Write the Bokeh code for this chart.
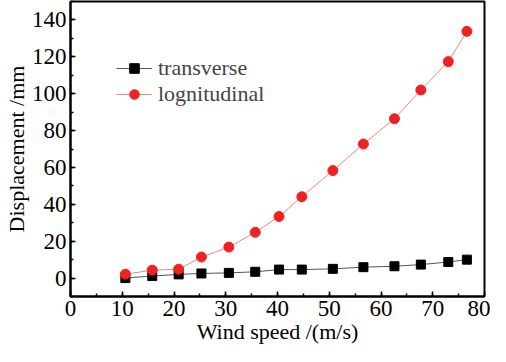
from bokeh.plotting import figure
from bokeh.models import Range1d, SingleIntervalTicker, Legend, LegendItem
from bokeh.embed import file_html
from bokeh.resources import INLINE

wind_speed = [10.6, 15.8, 20.9, 25.3, 30.6, 35.7, 40.3, 44.7, 50.7, 56.6, 62.6, 67.7, 73.0, 76.6]
transverse = [0.0, 1.1, 2.0, 2.5, 2.8, 3.4, 4.6, 4.6, 5.0, 5.9, 6.4, 7.3, 8.7, 10.0]
longitudinal = [2.1, 4.3, 4.8, 11.4, 16.8, 24.8, 33.4, 44.1, 58.3, 72.7, 86.4, 102.0, 117.4, 133.8]

FONT = "Liberation Serif"
TFONT = "'Liberation Serif', serif"
FS = "22px"
TFS = "23px"

p = figure(width=490, height=346, output_backend="svg", toolbar_location=None,
           x_range=Range1d(0, 80), y_range=Range1d(-10, 150),
           min_border_left=61, min_border_right=6, min_border_top=1, min_border_bottom=47)
p.background_fill_color = "white"
p.border_fill_color = "white"
p.grid.visible = False
p.outline_line_color = "black"
p.outline_line_width = 2

p.xaxis[0].ticker = SingleIntervalTicker(interval=10, num_minor_ticks=2)
p.yaxis[0].ticker = SingleIntervalTicker(interval=20, num_minor_ticks=2)
for ax in (p.xaxis[0], p.yaxis[0]):
    ax.axis_line_width = 2
    ax.major_tick_in = 5
    ax.major_tick_out = 0
    ax.minor_tick_in = 3
    ax.minor_tick_out = 0
    ax.major_tick_line_width = 1.5
    ax.minor_tick_line_width = 1.5
    ax.major_label_text_font = TFONT
    ax.major_label_text_font_size = TFS
    ax.major_label_text_color = "black"
    ax.axis_label_text_font = FONT
    ax.axis_label_text_font_size = FS
    ax.axis_label_text_font_style = "normal"
    ax.axis_label_text_color = "black"
p.xaxis[0].axis_label = "Wind speed /(m/s)"
p.yaxis[0].axis_label = "Displacement /mm"
p.xaxis[0].major_label_standoff = 4
p.xaxis[0].axis_label_standoff = 0
p.yaxis[0].major_label_standoff = 4
p.yaxis[0].axis_label_standoff = 0

l1 = p.line(wind_speed, transverse, line_color="#555555", line_width=1)
m1 = p.scatter(wind_speed, transverse, marker="square", size=9, fill_color="black", line_color="black")
l2 = p.line(wind_speed, longitudinal, line_color="#f08878", line_width=1)
m2 = p.scatter(wind_speed, longitudinal, marker="circle", size=10, fill_color="#ee2222", line_color="#ee2222")

legend = Legend(items=[LegendItem(label="transverse", renderers=[l1, m1]),
                       LegendItem(label="lognitudinal", renderers=[l2, m2])],
                location=(46, 189), margin=0, padding=0, spacing=-3,
                label_height=24, glyph_height=24, glyph_width=36,
                label_text_font=FONT, label_text_font_size=FS,
                border_line_color=None, background_fill_alpha=0, label_standoff=6)
p.add_layout(legend, "center")

open("out.html", "w").write(file_html(p, INLINE))
